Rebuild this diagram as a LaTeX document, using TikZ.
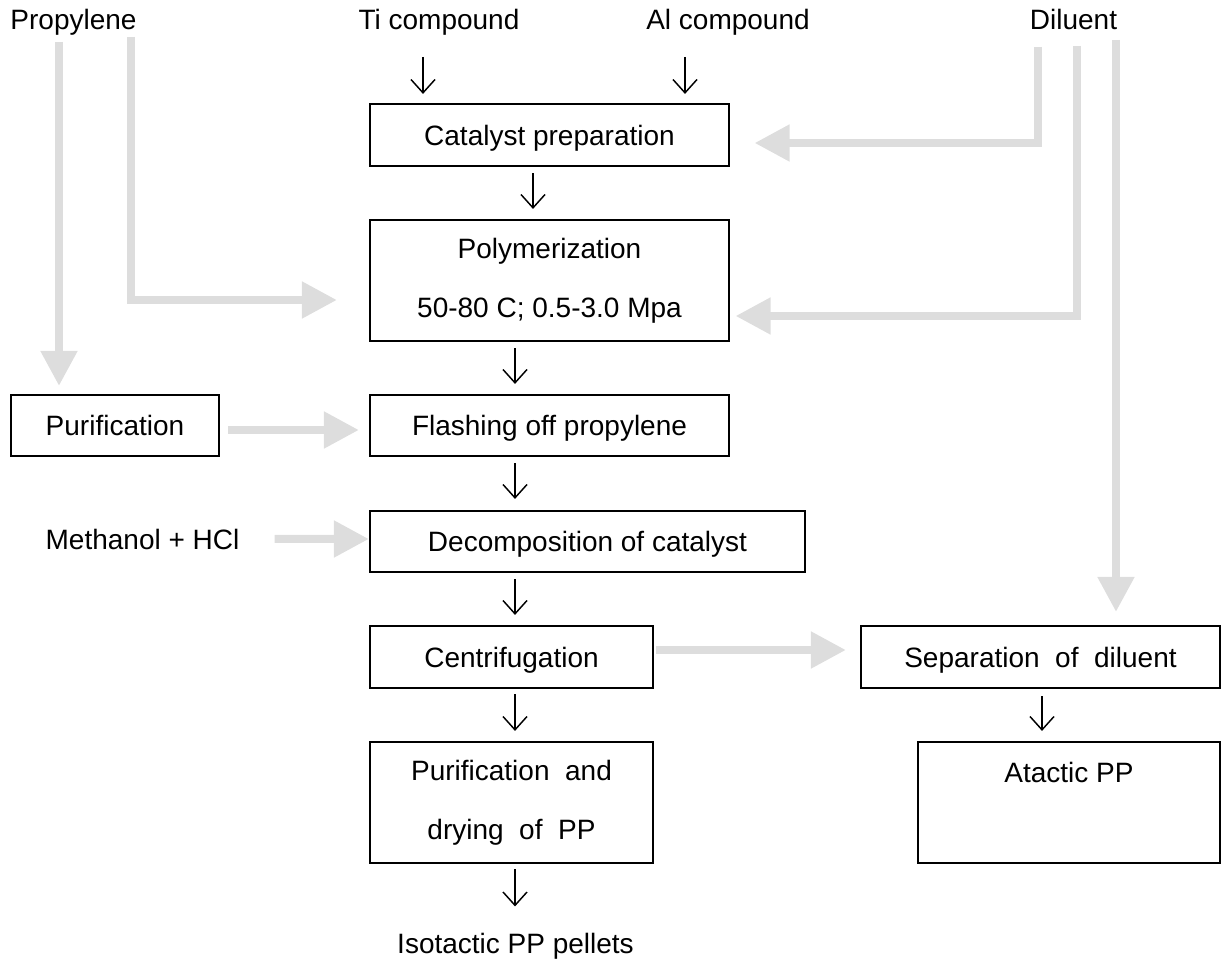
\documentclass[tikz,border=0pt]{standalone}
\usepackage{fontspec}
\setmainfont{Liberation Sans}
\usetikzlibrary{arrows.meta,calc}
\newdimen\pxu \pxu=0.75pt
\definecolor{flowgray}{RGB}{221,221,221}
\begin{document}
\begin{tikzpicture}[x=0.75pt,y=-0.75pt,
  box/.style={draw,line width=1.6pt,inner sep=0pt,font=\fontsize{21}{25}\selectfont},
  one/.style={text height=15.2pt,text depth=0pt},
  two/.style={align=center,font=\fontsize{21}{44.25}\selectfont},
  lbl/.style={inner sep=0pt,anchor=base,font=\fontsize{21}{25}\selectfont},
  blk/.style={line width=1.1pt,-{Straight Barb[length=10pt,width=18pt]}},
  flow/.style={draw=flowgray,line width=6pt,-{Triangle[length=26.25pt,width=26.25pt]}}
]
\useasboundingbox (0,0) rectangle (1222,962);

% boxes
\node[box,one,minimum width=359\pxu,minimum height=62\pxu] (cat) at (549.5,135) {Catalyst preparation};
\node[box,two,minimum width=359\pxu,minimum height=121\pxu] (poly) at (549.5,280.5) {Polymerization\\50-80 C; 0.5-3.0 Mpa};
\node[box,one,minimum width=359\pxu,minimum height=61\pxu] (flash) at (549.5,425.5) {Flashing off propylene};
\node[box,one,minimum width=435\pxu,minimum height=61\pxu] (decomp) at (587.5,541.5) {Decomposition of catalyst};
\node[box,one,minimum width=283\pxu,minimum height=62\pxu] (centri) at (511.5,657) {Centrifugation};
\node[box,two,minimum width=283\pxu,minimum height=121\pxu] (dry) at (511.5,802.5) {Purification\ \ and\\drying\ \ of\ \ PP};
\node[box,one,minimum width=208\pxu,minimum height=61\pxu] (pur) at (115,425.5) {Purification};
\node[box,one,minimum width=359\pxu,minimum height=62\pxu] (sep) at (1040.5,657) {Separation\ \ of\ \ diluent};
\node[box,minimum width=302\pxu,minimum height=121\pxu] (atac) at (1069,802.5) {};
\node[lbl] (atxt) at (1069,782) {Atactic PP};

% free labels
\node[lbl] (prop) at (73.5,30) {Propylene};
\node[lbl] (ti) at (439,30) {Ti compound};
\node[lbl] (al) at (728,30) {Al compound};
\node[lbl] (dil) at (1073.5,30) {Diluent};
\node[lbl] (meth) at (142.5,550) {Methanol + HCl};
\node[lbl] (iso) at (515.5,953) {Isotactic PP pellets};

% grey flow arrows
\coordinate (pl1) at (59,42);
\coordinate (pl2) at (131,37);
\coordinate (dl1) at (1038,47);
\coordinate (dl2) at (1077,46);
\coordinate (dl3) at (1116,40);
\draw[flow] (pl1) -- ($(pl1 |- pur.north)+(0,-8)$);
\draw[flow] (pl2) |- ($(poly.west)+(-32,19.5)$);
\draw[flow] (dl1) |- ($(cat.east)+(24.5,8)$);
\draw[flow] (dl2) |- ($(poly.east)+(5.5,35.5)$);
\draw[flow] (dl3) -- ($(dl3 |- sep.north)+(0,-13)$);
\draw[flow] ($(pur.east)+(8,4.5)$) -- ($(flash.west)+(-10,4.5)$);
\draw[flow] ($(meth.east)+(35,-1)$) -- ($(decomp.west)+(0,-2.5)$);
\draw[flow] ($(centri.east)+(2,-7)$) -- ($(sep.west)+(-14,-7)$);

% black arrows
\coordinate (tiin) at (423,57);
\coordinate (alin) at (685,57);
\draw[blk] (tiin) -- ($(tiin |- cat.north)+(0,-9)$);
\draw[blk] (alin) -- ($(alin |- cat.north)+(0,-9)$);
\draw[blk] ($(cat.south)+(-16.5,6)$) -- ($(poly.north)+(-16.5,-10)$);
\draw[blk] ($(poly.south)+(-34.5,6)$) -- ($(flash.north)+(-34.5,-10)$);
\draw[blk] ($(flash.south)+(-34.5,6)$) -- ($(decomp.north)+(-72.5,-11)$);
\draw[blk] ($(decomp.south)+(-72.5,6)$) -- ($(centri.north)+(3.5,-10)$);
\draw[blk] ($(centri.south)+(3.5,5)$) -- ($(dry.north)+(3.5,-10)$);
\draw[blk] ($(dry.south)+(3.5,5)$) -- ($(iso.north)+(-0.5,-26)$);
\draw[blk] ($(sep.south)+(1.5,7)$) -- ($(atac.north)+(-27,-10)$);
\end{tikzpicture}
\end{document}
